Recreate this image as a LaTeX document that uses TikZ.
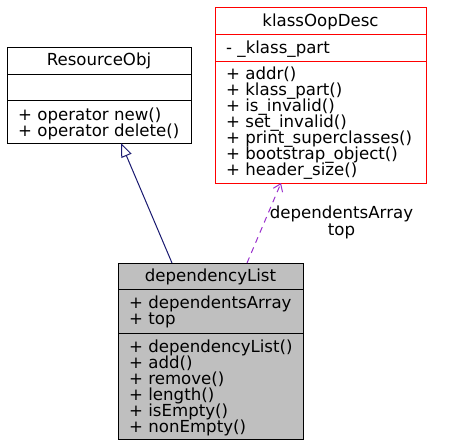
\documentclass[tikz,border=0pt]{standalone}
\usepackage{fontspec}
\setmainfont{DejaVu Sans}
\usetikzlibrary{arrows.meta,calc}
\definecolor{edgeblue}{HTML}{191970}
\definecolor{edgepurple}{HTML}{9A32CD}
\definecolor{boxgray}{HTML}{BFBFBF}
\definecolor{boxred}{HTML}{FF0000}
\begin{document}
\begin{tikzpicture}[x=1pt,y=-1pt,
  classbox/.style={draw, line width=1pt, inner sep=0pt, outer sep=0pt, anchor=north west},
  txt/.style={anchor=base west, inner sep=0pt, font=\fontsize{16.6}{16}\selectfont},
  ttl/.style={anchor=base, inner sep=0pt, font=\fontsize{16.6}{16}\selectfont},
  sep/.style={line width=1pt},
  inherit/.style={draw=edgeblue, line width=1pt, -{Triangle[open, length=14pt, width=11pt, line width=1pt]}},
  usage/.style={draw=edgepurple, line width=1pt, dash pattern=on 6pt off 5pt, -{Straight Barb[length=7pt, width=10pt, line width=1pt]}},
  lbl/.style={align=center, inner sep=0pt, font=\fontsize{16.6}{15}\selectfont}
]
\useasboundingbox (0,0) rectangle (471,447);
% ResourceObj
\node[classbox, minimum width=184pt, minimum height=96pt] (res) at (7,47) {};
\node[ttl] (resT) at (99,65) {ResourceObj};
\draw[sep] (res.west |- 0,74) -- (res.east |- 0,74);
\draw[sep] (res.west |- 0,100) -- (res.east |- 0,100);
\node[txt] (resM1) at (18,120) {+ operator new()};
\node[txt] (resM2) at (18,136) {+ operator delete()};
% klassOopDesc
\node[classbox, draw=boxred, minimum width=211pt, minimum height=176pt] (kod) at (215,7) {};
\node[ttl] (kodT) at (320.5,26) {klassOopDesc};
\draw[sep, boxred] (kod.west |- 0,34) -- (kod.east |- 0,34);
\node[txt] (kodA1) at (226,53) {- \_klass\_part};
\draw[sep, boxred] (kod.west |- 0,61) -- (kod.east |- 0,61);
\node[txt] (kodM1) at (226,79) {+ addr()};
\node[txt] (kodM2) at (226,95) {+ klass\_part()};
\node[txt] (kodM3) at (226,111) {+ is\_invalid()};
\node[txt] (kodM4) at (226,127) {+ set\_invalid()};
\node[txt] (kodM5) at (226,143) {+ print\_superclasses()};
\node[txt] (kodM6) at (226,159) {+ bootstrap\_object()};
\node[txt] (kodM7) at (226,175) {+ header\_size()};
% dependencyList
\node[classbox, fill=boxgray, minimum width=185pt, minimum height=176pt] (dep) at (118,263) {};
\node[ttl] (depT) at (210.5,281) {dependencyList};
\draw[sep] (dep.west |- 0,289) -- (dep.east |- 0,289);
\node[txt] (depA1) at (129,308) {+ dependentsArray};
\node[txt] (depA2) at (129,324) {+ top};
\draw[sep] (dep.west |- 0,333) -- (dep.east |- 0,333);
\node[txt] (depM1) at (129,352) {+ dependencyList()};
\node[txt] (depM2) at (129,368) {+ add()};
\node[txt] (depM3) at (129,384) {+ remove()};
\node[txt] (depM4) at (129,400) {+ length()};
\node[txt] (depM5) at (129,416) {+ isEmpty()};
\node[txt] (depM6) at (129,432) {+ nonEmpty()};
% edges
\draw[inherit] ($(dep.north west)+(54,0)$) -- ($(res.south west)+(114,0)$);
\draw[usage] ($(dep.north west)+(129,0)$) -- ($(kod.south west)+(66,0)$);
\node[lbl, anchor=base] (lab) at (341.5,235) {dependentsArray\\top};
\end{tikzpicture}
\end{document}
